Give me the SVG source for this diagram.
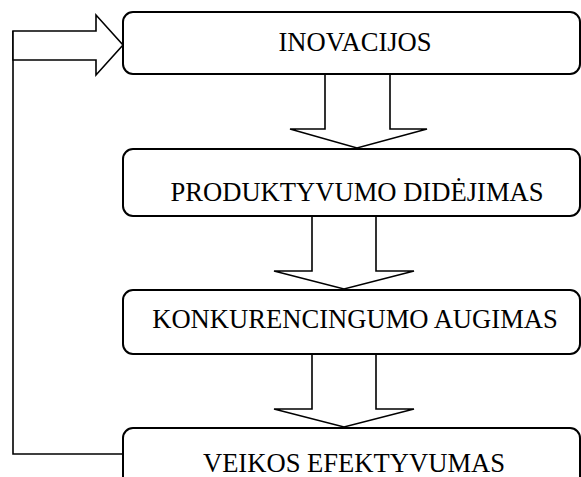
<svg xmlns="http://www.w3.org/2000/svg" width="581" height="477" viewBox="0 0 581 477">
<style>
.box{fill:#fff;stroke:#000;stroke-width:2}
.arr{fill:#fff;stroke:#000;stroke-width:1.6;stroke-linejoin:miter}
.ln{fill:none;stroke:#000;stroke-width:1.6}
.t{font-family:"Liberation Serif","Times New Roman",serif;font-size:26.6px;fill:#000;text-anchor:middle}
</style>
<rect width="581" height="477" fill="#fff"/>
<g id="connectors">
<polyline class="ln" points="123,454 13,454 13,31"/>
<polygon class="arr" points="13,31 96,31 96,15 123,45 96,75 96,60 13,60"/>
<polygon class="arr" points="325,74 325,129 290,129 357,148 427,129 390,129 390,74"/>
<polygon class="arr" points="312,216 312,271 274,271 344,289 414,271 376,271 376,216"/>
<polygon class="arr" points="312,354 312,409 274,409 344,427 414,409 376,409 376,354"/>
</g>
<g id="n1"><rect class="box" x="123" y="12" width="457" height="62" rx="10"/><text class="t" x="355" y="50.5">INOVACIJOS</text></g>
<g id="n2"><rect class="box" x="123" y="149" width="457" height="67" rx="10"/><text class="t" x="357" y="201">PRODUKTYVUMO DIDĖJIMAS</text></g>
<g id="n3"><rect class="box" x="123" y="290" width="457" height="64" rx="10"/><text class="t" x="355" y="328">KONKURENCINGUMO AUGIMAS</text></g>
<g id="n4"><rect class="box" x="123" y="428" width="457" height="70" rx="10"/><text class="t" x="354" y="472">VEIKOS EFEKTYVUMAS</text></g>
</svg>
